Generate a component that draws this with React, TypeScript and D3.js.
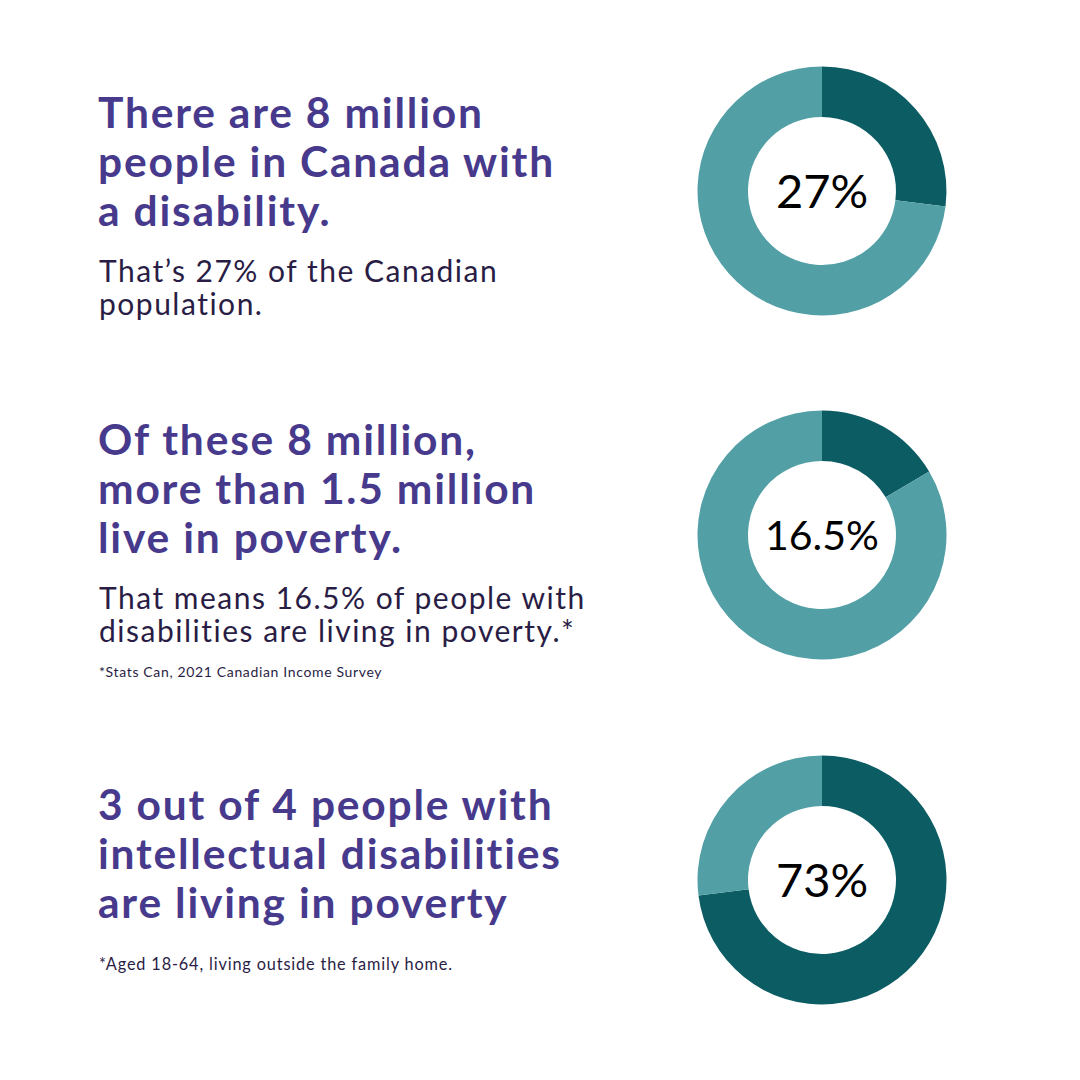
import * as d3 from "d3";

const percents = [27, 16.5, 73];
const labels = ["27%", "16.5%", "73%"];
const headlines = [
  ["There are 8 million", "people in Canada with", "a disability."],
  ["Of these 8 million,", "more than 1.5 million", "live in poverty."],
  ["3 out of 4 people with", "intellectual disabilities", "are living in poverty"],
];
const bodies = [
  ["That\u2019s 27% of the Canadian", "population."],
  ["That means 16.5% of people with", "disabilities are living in poverty.*"],
  [],
];
const notes = ["", "*Stats Can, 2021 Canadian Income Survey", "*Aged 18-64, living outside the family home."];

const W = 1080;
const H = 1080;
const dark = "#0b5c63";
const light = "#539fa6";
const purple = "#473a8c";
const ink = "#2a1d45";
const font = "Lato, 'Open Sans', sans-serif";

// layout per block
const blockTop = [128, 455, 820];
const centerY = [191, 535, 880];
const noteY = [0, 677, 970];
const labelSize = [47, 41, 47];

export default function App() {
  const pie = d3.pie<number>().sort(null).value(d => d);
  const arc = d3.arc<d3.PieArcDatum<number>>().innerRadius(74).outerRadius(124.5);

  return (
    <svg width={W} height={H} style={{ position: "absolute", left: 0, top: 0, background: "#fff" }}>
      <rect width={W} height={H} fill="#fff" />
      {percents.map((p, i) => {
        const slices = pie([p, 100 - p]);
        return (
          <g key={i}>
            <g transform={`translate(822, ${centerY[i]})`}>
              {slices.map((s, j) => (
                <path key={j} d={arc(s) || ""} fill={j === 0 ? dark : light} />
              ))}
              <text textAnchor="middle" dy="0.36em" fontFamily={font} fontSize={labelSize[i]} fill="#000">
                {labels[i]}
              </text>
            </g>
            {headlines[i].map((line, k) => (
              <text key={k} x={98} y={blockTop[i] + k * 49} fontFamily={font} fontWeight={700}
                fontSize={42.5} letterSpacing={1.8} fill={purple}>
                {line}
              </text>
            ))}
            {bodies[i].map((line, k) => (
              <text key={k} x={99} y={blockTop[i] + 154 + k * 33} fontFamily={font}
                fontSize={30} letterSpacing={1.5} fill={ink}>
                {line}
              </text>
            ))}
            {notes[i] && (
              <text x={99} y={noteY[i]} fontFamily={font} fontSize={i === 1 ? 14 : 16.3}
                letterSpacing={i === 1 ? 0.65 : 0.85} fill={ink}>
                {notes[i]}
              </text>
            )}
          </g>
        );
      })}
    </svg>
  );
}
